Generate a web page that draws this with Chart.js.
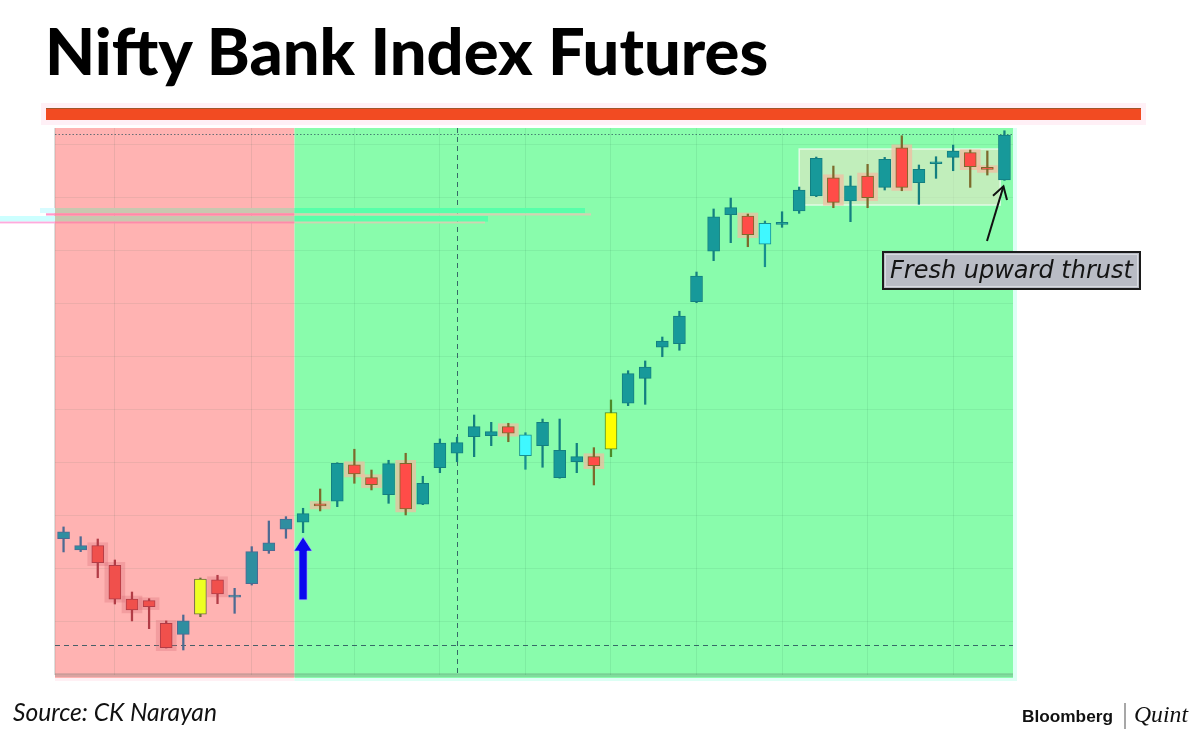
<!DOCTYPE html>
<html>
<head>
<meta charset="utf-8">
<script src="https://cdn.jsdelivr.net/npm/chart.js@4.4.1/dist/chart.umd.min.js"></script>
<style>
html,body{margin:0;padding:0;background:#fff;width:1200px;height:730px;overflow:hidden;}
#wrap{position:relative;width:1200px;height:730px;}
#c{position:absolute;left:0;top:0;}
#ov{position:absolute;left:0;top:0;}
</style>
</head>
<body>
<div id="wrap">
<canvas id="c" width="1200" height="730"></canvas>
<svg id="ov" width="1200" height="730" xmlns="http://www.w3.org/2000/svg">
  <rect x="41" y="103" width="1105" height="22" fill="#fff0f6"/>
  <rect x="46" y="108" width="1095" height="12" fill="#f24b22"/>
  <line x1="46" y1="108.5" x2="1141" y2="108.5" stroke="#a0562c" stroke-width="1"/>
  <text id="title" x="45" y="75" fill="#000" style="font-family:Lato;font-weight:900;font-size:56px;">Nifty Bank Index Futures</text>
  <text id="source" x="13" y="721" fill="#111" style="font-family:Lato;font-style:italic;font-size:21px;">Source: CK Narayan</text>
  <text id="bb" x="1022" y="722" fill="#111" style="font-family:'Liberation Sans';font-weight:700;font-size:17px;">Bloomberg</text>
  <line x1="1125" y1="703" x2="1125" y2="729" stroke="#8a8a8a" stroke-width="1.5"/>
  <text id="quint" x="1134" y="722" fill="#111" style="font-family:'Liberation Serif';font-style:italic;font-size:24px;">Quint</text>
  <rect x="883" y="252" width="257" height="37" fill="#b9bcc5" stroke="#1c1c1c" stroke-width="2"/>
  <rect x="885.5" y="254.5" width="252" height="32" fill="none" stroke="#d8dbe0" stroke-width="1"/>
  <text id="note" x="890" y="278" fill="#141414" style="font-family:'DejaVu Sans';font-style:italic;font-size:21px;">Fresh upward thrust</text>
</svg>
</div>
<script>
// ---------------- data (arbitrary price units) ----------------
const SESSIONS = Array.from({length: 56}, (_, i) => 'S' + (i + 1));
const OPEN  = [26779,26673,26713,26528,26210,26194,25981,25877,26066,26392,26228,26355,26666,26868,
               26934,27102,27132,27477,27355,27194,27491,27104,27449,27585,27742,27751,27836,27758,
               27657,27355,27506,27553,27623,28057,28292,28585,28619,29015,29493,29836,29824,29559,
               29744,29871,30012,30185,29965,30201,30094,30468,30138,30317,30377,30421,30271,30163];
const HIGH  = [26890,26798,26776,26578,26276,26213,26003,26059,26408,26434,26311,26704,26946,26987,
               27066,27248,27496,27623,27427,27519,27585,27368,27720,27736,27946,27877,27868,27779,
               27908,27908,27679,27638,28088,28364,28456,28682,28925,29295,29890,29993,29842,29776,
               29864,30097,30380,30295,30201,30311,30377,30581,30305,30383,30493,30446,30437,30628];
const LOW   = [26654,26657,26411,26163,26003,25930,25748,25729,26043,26166,26075,26342,26641,26783,
               26836,27041,27081,27302,27239,27113,27003,27100,27402,27506,27553,27657,27694,27434,
               27453,27350,27402,27286,27553,28034,28047,28496,28557,29006,29402,29572,29534,29345,
               29717,29849,30006,29902,29770,29902,30069,30062,29934,30179,30251,30094,30210,30160];
const CLOSE = [26845,26713,26553,26208,26107,26138,25751,26003,26399,26258,26236,26657,26739,26965,
               27015,27088,27491,27390,27289,27487,27059,27302,27682,27685,27836,27789,27774,27562,
               27877,27613,27553,27468,27970,28336,28399,28644,28880,29258,29817,29902,29647,29755,
               29752,30069,30368,29953,30109,29996,30359,30094,30264,30325,30437,30289,30263,30588];
const YELLOW_BARS = [8, 32];
const CYAN_BARS = [27, 41];
const PINK_LAST = 13;                 // last session of the red (pink) phase
const Y_GRID = [25500,26000,26500,27000,27500,28000,28500,29000,29500,30000,30500];
const X_GRID = [3,11,17,22,27,32,37,42,47,52];
const Y_MIN = 25493, Y_MAX = 30654;
const SUPPORT = 25776;               // dashed horizontal
const TOP_LINE = 30597;              // dotted horizontal
const MARK_SESSION = 23;             // dashed vertical
const BOX_FROM = 43, BOX_TO = 54.75, BOX_HI = 30456, BOX_LO = 29927;
const UP_ARROW_SESSION = 14, UP_ARROW_TIP = 26795, UP_ARROW_BASE = 26202;
const THRUST_SESSION = 55;

// ---------------- styling ----------------
const PALETTE = {
  pink:  { up:['#2f8ea0','#4d6a92'], down:['#f0504c','#b23c46'], yellow:['#eeff22','#6a6a40'], cyan:['#40f4ff','#3a7a90'] },
  green: { up:['#17999a','#137f80'], down:['#ff4c48','#7c6a2c'], yellow:['#ffff00','#4c8a28'], cyan:['#3ff8ff','#178f90'] }
};
function kind(i){
  if (YELLOW_BARS.includes(i)) return 'yellow';
  if (CYAN_BARS.includes(i)) return 'cyan';
  return CLOSE[i] >= OPEN[i] ? 'up' : 'down';
}
function zone(i){ return i <= PINK_LAST ? 'pink' : 'green'; }
const bodyFill = SESSIONS.map((_, i) => PALETTE[zone(i)][kind(i)][0]);
const bodyLine = SESSIONS.map((_, i) => PALETTE[zone(i)][kind(i)][1]);
const HALO_PAD = 28;
const haloData = SESSIONS.map((_, i) => kind(i) === 'down'
  ? [Math.min(OPEN[i], CLOSE[i]) - HALO_PAD, Math.max(OPEN[i], CLOSE[i]) + HALO_PAD] : null);
const haloFill = SESSIONS.map((_, i) => zone(i) === 'pink' ? 'rgba(215,105,115,0.30)' : 'rgba(245,185,160,0.70)');

// fit text widths
(function fitText(){
  const m = document.createElement('canvas').getContext('2d');
  const fit = (id, font, target) => {
    const el = document.getElementById(id);
    m.font = font.replace('SIZE', '100px');
    const w = m.measureText(el.textContent).width;
    el.style.fontSize = (100 * target / w).toFixed(2) + 'px';
  };
  fit('title', '900 SIZE Lato', 725);
  fit('source', 'italic 400 SIZE Lato', 204);
  fit('bb', '700 SIZE "Liberation Sans"', 91);
  fit('quint', 'italic 400 SIZE "Liberation Serif"', 54);
  fit('note', 'italic 400 SIZE "DejaVu Sans"', 243);
})();

function xAt(x, v){ // fractional session -> pixel
  const i = Math.floor(v), f = v - i;
  const p0 = x.getPixelForValue(i), p1 = x.getPixelForValue(i + 1);
  return p0 + (p1 - p0) * f;
}

const decor = {
  id: 'decor',
  beforeDraw(chart){
    const {ctx, chartArea: a, scales: {x}} = chart;
    const bx = (x.getPixelForValue(PINK_LAST) + x.getPixelForValue(PINK_LAST + 1)) / 2;
    ctx.save();
    ctx.fillStyle = '#ffb3b2';
    ctx.fillRect(a.left, a.top, bx - a.left, a.bottom - a.top + 3);
    ctx.fillStyle = '#89fcac';
    ctx.fillRect(bx, a.top, a.right - bx, a.bottom - a.top + 3);
    // frame strips
    ctx.fillStyle = 'rgba(90,110,100,0.22)';
    ctx.fillRect(a.left, a.bottom - 2, a.right - a.left, 4);
    ctx.fillRect(a.left - 1, a.top, 1.5, a.bottom - a.top);
    ctx.fillStyle = '#fff0f4';
    ctx.fillRect(a.left, a.bottom + 3, bx - a.left, 3);
    ctx.fillStyle = '#dcfff4';
    ctx.fillRect(bx, a.bottom + 3, a.right - bx, 3);
    ctx.fillRect(a.right, a.top, 4, a.bottom - a.top + 6);
    ctx.restore();
  },
  beforeDatasetsDraw(chart){
    const {ctx, chartArea: a, scales: {x, y}} = chart;
    ctx.save();
    // consolidation box
    const x0 = xAt(x, BOX_FROM), x1 = xAt(x, BOX_TO);
    const y0 = y.getPixelForValue(BOX_HI), y1 = y.getPixelForValue(BOX_LO);
    ctx.fillStyle = 'rgba(238,226,200,0.55)';
    ctx.fillRect(x0, y0, x1 - x0, y1 - y0);
    ctx.strokeStyle = 'rgba(255,255,255,0.65)';
    ctx.lineWidth = 1.5;
    ctx.strokeRect(x0, y0, x1 - x0, y1 - y0);
    // dashed lines
    ctx.strokeStyle = 'rgba(40,80,90,0.85)';
    ctx.lineWidth = 1;
    ctx.setLineDash([5, 4]);
    const vx = Math.round(x.getPixelForValue(MARK_SESSION)) + 0.5;
    ctx.beginPath(); ctx.moveTo(vx, a.top); ctx.lineTo(vx, a.bottom); ctx.stroke();
    const hy = Math.round(y.getPixelForValue(SUPPORT)) + 0.5;
    ctx.beginPath(); ctx.moveTo(a.left, hy); ctx.lineTo(a.right, hy); ctx.stroke();
    ctx.setLineDash([1.5, 2]);
    ctx.strokeStyle = 'rgba(40,80,90,0.7)';
    const ty = Math.round(y.getPixelForValue(TOP_LINE)) + 0.5;
    ctx.beginPath(); ctx.moveTo(a.left, ty); ctx.lineTo(a.right, ty); ctx.stroke();
    ctx.restore();
  },
  afterDraw(chart){
    const {ctx, chartArea: a, scales: {x, y}} = chart;
    ctx.save();
    // blue up arrow
    const ax = x.getPixelForValue(UP_ARROW_SESSION);
    const tip = y.getPixelForValue(UP_ARROW_TIP), base = y.getPixelForValue(UP_ARROW_BASE);
    ctx.fillStyle = '#0a0aee';
    ctx.strokeStyle = 'rgba(180,190,255,0.6)';
    ctx.lineWidth = 1;
    ctx.beginPath();
    ctx.moveTo(ax, tip);
    ctx.lineTo(ax + 9, tip + 14);
    ctx.lineTo(ax + 4, tip + 14);
    ctx.lineTo(ax + 4, base);
    ctx.lineTo(ax - 4, base);
    ctx.lineTo(ax - 4, tip + 14);
    ctx.lineTo(ax - 9, tip + 14);
    ctx.closePath();
    ctx.fill(); ctx.stroke();
    // thrust arrow (from label to last candle)
    const tx = x.getPixelForValue(THRUST_SESSION) - 1;
    const tyy = y.getPixelForValue(LOW[THRUST_SESSION]) + 6;
    const sx = 987, sy = 241;
    ctx.strokeStyle = '#111';
    ctx.lineWidth = 2;
    ctx.beginPath(); ctx.moveTo(sx, sy); ctx.lineTo(tx, tyy); ctx.stroke();
    const ang = Math.atan2(tyy - sy, tx - sx);
    ctx.beginPath();
    ctx.moveTo(tx - 14 * Math.cos(ang - 0.55), tyy - 14 * Math.sin(ang - 0.55));
    ctx.lineTo(tx, tyy);
    ctx.lineTo(tx - 14 * Math.cos(ang + 0.55), tyy - 14 * Math.sin(ang + 0.55));
    ctx.stroke();
    // scan artefact bands across the left part of the picture
    const bx = (x.getPixelForValue(PINK_LAST) + x.getPixelForValue(PINK_LAST + 1)) / 2;
    const bands = [
      [80, 5, a.left - 15, 545, ['#d8fcff', '#c8c8b0', '#58ffaa']],
      [85.3, 2.2, a.left - 9, 545, ['#ff99cc', '#ff8aaa', '#d2d2b2']],
      [88, 5.6, 0, 488, ['#ccffff', '#c8c8b0', '#58ffaa']],
      [93.6, 1.8, 0, 485, ['#ffaadd', '#ff8aaa', '#d2d2b2']]
    ];
    bands.forEach(([dy, h, x0, len, cols]) => {
      const yy = a.top + dy, x1 = x0 + len;
      const segs = [[x0, Math.min(x1, a.left), cols[0]], [Math.max(x0, a.left), Math.min(x1, bx), cols[1]], [Math.max(x0, bx), x1, cols[2]]];
      segs.forEach(([s, e, c]) => { if (e > s) { ctx.fillStyle = c; ctx.fillRect(s, yy, e - s, h); } });
    });
    ctx.restore();
  }
};

new Chart(document.getElementById('c'), {
  type: 'bar',
  data: {
    labels: SESSIONS,
    datasets: [
      { label: 'halo', data: haloData, backgroundColor: haloFill, borderWidth: 0,
        barThickness: 20, grouped: false, order: 3 },
      { label: 'range', data: SESSIONS.map((_, i) => [LOW[i], HIGH[i]]), backgroundColor: bodyLine,
        borderWidth: 0, barThickness: 1.6, grouped: false, order: 2 },
      { label: 'body', data: SESSIONS.map((_, i) => [OPEN[i], CLOSE[i]]), backgroundColor: bodyFill,
        borderColor: bodyLine, borderWidth: 1, borderSkipped: false, barThickness: 12,
        minBarLength: 2, grouped: false, order: 1 }
    ]
  },
  options: {
    responsive: false,
    animation: false,
    devicePixelRatio: 1,
    layout: { padding: { left: 55, top: 128, right: 187, bottom: 55 } },
    plugins: { legend: { display: false }, tooltip: { enabled: false } },
    scales: {
      x: {
        offset: true,
        ticks: { display: false, autoSkip: false },
        border: { display: false },
        grid: { offset: false, drawTicks: false, lineWidth: 1,
          color: c => X_GRID.includes(c.index) ? 'rgba(20,90,60,0.09)' : 'rgba(0,0,0,0)' }
      },
      y: {
        min: Y_MIN, max: Y_MAX,
        afterBuildTicks: s => { s.ticks = Y_GRID.map(v => ({ value: v })); },
        ticks: { display: false },
        border: { display: false },
        grid: { drawTicks: false, lineWidth: 1, color: 'rgba(20,90,60,0.08)' }
      }
    }
  },
  plugins: [decor]
});
</script>
</body>
</html>
